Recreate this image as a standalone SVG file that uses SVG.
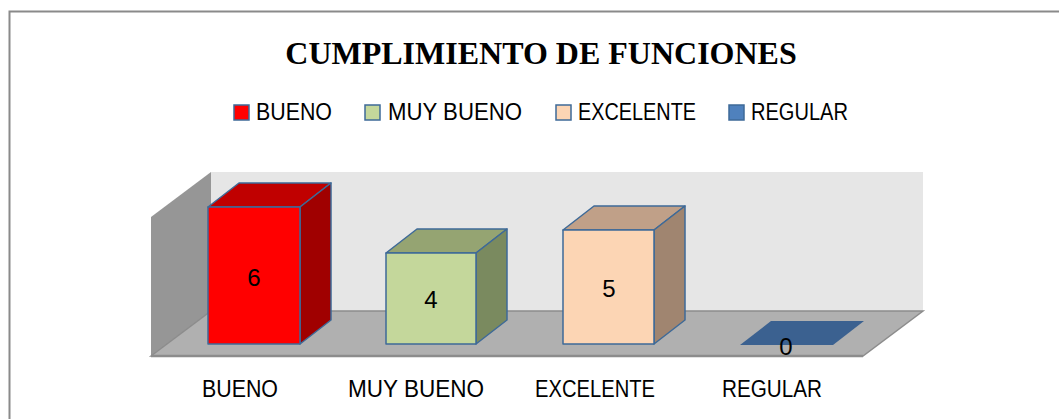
<svg xmlns="http://www.w3.org/2000/svg" width="1059" height="419" viewBox="0 0 1059 419">
<style>
.t{font-family:"Liberation Sans",Arial,sans-serif;font-size:23px;fill:#000}
.v{font-family:"Liberation Sans",Arial,sans-serif;font-size:24px;fill:#000}
.title{font-family:"Liberation Serif","Times New Roman",serif;font-size:32px;font-weight:bold;fill:#000}
.bar{stroke:#3e6a98;stroke-width:1.5;stroke-linejoin:round}
.lg{stroke:#3e6a98;stroke-width:1.5}
</style>
<rect width="1059" height="419" fill="#ffffff"/>
<path d="M9.5 419 V11.5 H1059" fill="none" stroke="#8a8a8a" stroke-width="2"/>
<g id="title"><text class="title" x="541" y="64" text-anchor="middle">CUMPLIMIENTO DE FUNCIONES</text></g>
<g id="legend">
<rect class="lg" x="234" y="105" width="15" height="15" fill="#ff0000"/>
<text class="t" x="256" y="120" textLength="76" lengthAdjust="spacingAndGlyphs">BUENO</text>
<rect class="lg" x="365" y="105" width="15" height="15" fill="#c4d79b"/>
<text class="t" x="388" y="120" textLength="134" lengthAdjust="spacingAndGlyphs">MUY BUENO</text>
<rect class="lg" x="556" y="105" width="15" height="15" fill="#fcd5b4"/>
<text class="t" x="578" y="120" textLength="118" lengthAdjust="spacingAndGlyphs">EXCELENTE</text>
<rect class="lg" x="729" y="105" width="15" height="15" fill="#4f81bd"/>
<text class="t" x="751" y="120" textLength="97" lengthAdjust="spacingAndGlyphs">REGULAR</text>
</g>
<g id="walls">
<rect x="211" y="172" width="712" height="139" fill="#e6e6e6"/>
<polygon points="151,217 211,172 211,311 151,356" fill="#969696"/>
<polygon points="151,356 211,311 923,311 863,356" fill="#b0b0b0" stroke="#8c8c8c" stroke-width="1.5"/>
<line x1="151" y1="356" x2="863" y2="356" stroke="#8c8c8c" stroke-width="2.5"/>
</g>
<g id="bar-bueno">
<polygon class="bar" points="208,207 239,183 331,183 300,207" fill="#c00000"/>
<polygon class="bar" points="300,207 331,183 331,320 300,344" fill="#a00000"/>
<rect class="bar" x="208" y="207" width="92" height="137" fill="#ff0000"/>
<text class="v" x="254" y="286" text-anchor="middle">6</text>
</g>
<g id="bar-muybueno">
<polygon class="bar" points="386,253 417,229 507,229 476,253" fill="#95a472"/>
<polygon class="bar" points="476,253 507,229 507,320 476,344" fill="#7a8a5f"/>
<rect class="bar" x="386" y="253" width="90" height="91" fill="#c4d79b"/>
<text class="v" x="431" y="308" text-anchor="middle">4</text>
</g>
<g id="bar-excelente">
<polygon class="bar" points="563,230 594,206 685,206 654,230" fill="#c0a088"/>
<polygon class="bar" points="654,230 685,206 685,320 654,344" fill="#a08570"/>
<rect class="bar" x="563" y="230" width="91" height="114" fill="#fcd5b4"/>
<text class="v" x="609" y="297" text-anchor="middle">5</text>
</g>
<g id="bar-regular">
<polygon points="740,345 771,321 864,321 833,345" fill="#3b6190"/>
<text class="v" x="786" y="355" text-anchor="middle">0</text>
</g>
<g id="axis-labels">
<text class="t" x="202" y="397" textLength="76" lengthAdjust="spacingAndGlyphs">BUENO</text>
<text class="t" x="348" y="397" textLength="136" lengthAdjust="spacingAndGlyphs">MUY BUENO</text>
<text class="t" x="535" y="397" textLength="120" lengthAdjust="spacingAndGlyphs">EXCELENTE</text>
<text class="t" x="722" y="397" textLength="100" lengthAdjust="spacingAndGlyphs">REGULAR</text>
</g>
<g id="connectors"/>
</svg>
